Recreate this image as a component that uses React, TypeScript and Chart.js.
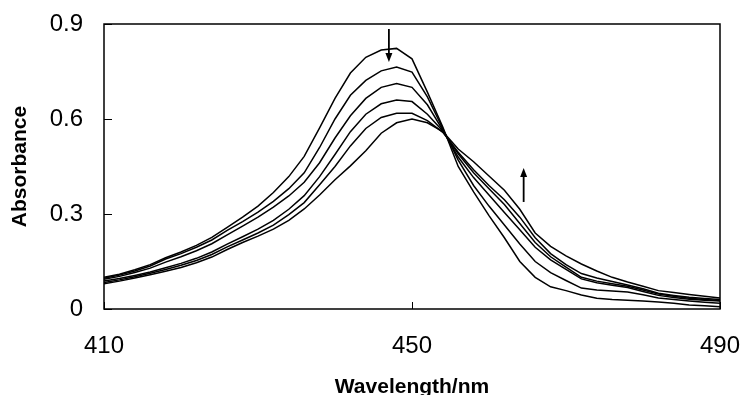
import React, { useEffect, useRef } from "react";
import { Chart, registerables } from "chart.js";

Chart.register(...registerables);

const wavelengths = [410,412,414,416,418,420,422,424,426,428,430,432,434,436,438,440,442,444,446,448,450,452,454,456,458,460,462,464,466,468,470,472,474,476,478,480,482,484,486,488,490];

const spectrum1 = [.100,.110,.124,.140,.162,.180,.201,.226,.258,.290,.325,.368,.418,.482,.572,.665,.745,.795,.818,.823,.790,.685,.575,.450,.370,.295,.225,.150,.100,.070,.058,.044,.034,.030,.028,.025,.022,.018,.013,.010,.007];
const spectrum2 = [.097,.107,.120,.136,.158,.175,.195,.218,.248,.276,.306,.340,.380,.430,.510,.600,.675,.722,.752,.764,.748,.670,.570,.470,.390,.325,.265,.205,.150,.115,.090,.066,.060,.057,.054,.045,.035,.030,.025,.021,.018];
const spectrum3 = [.094,.103,.115,.129,.148,.165,.184,.206,.234,.262,.290,.322,.357,.400,.462,.540,.610,.665,.700,.712,.700,.645,.565,.480,.415,.360,.305,.250,.195,.155,.125,.095,.083,.075,.068,.055,.043,.036,.031,.028,.025];
const spectrum4 = [.088,.096,.106,.117,.130,.144,.160,.180,.205,.228,.252,.280,.315,.358,.418,.488,.560,.615,.648,.660,.655,.615,.562,.490,.430,.380,.330,.270,.210,.165,.132,.100,.088,.080,.072,.060,.047,.040,.034,.030,.027];
const spectrum5 = [.084,.092,.102,.113,.125,.138,.153,.172,.196,.218,.240,.265,.298,.336,.392,.450,.515,.570,.605,.618,.618,.595,.558,.495,.440,.390,.345,.290,.225,.175,.140,.112,.098,.087,.076,.064,.050,.043,.037,.033,.030];
const spectrum6 = [.080,.088,.098,.108,.119,.131,.146,.164,.188,.210,.230,.252,.280,.316,.360,.408,.452,.500,.555,.588,.600,.588,.560,.505,.465,.420,.375,.315,.240,.198,.168,.142,.120,.100,.085,.072,.058,.052,.046,.040,.035];

const spectra = [spectrum1, spectrum2, spectrum3, spectrum4, spectrum5, spectrum6];

const xTicks = [410, 450, 490];
const yTicks = [0, 0.3, 0.6, 0.9];
const yTickLabels = ["0", "0.3", "0.6", "0.9"];

// arrows: [wavelength, from absorbance, to absorbance]
const arrowDown = [447.0, 0.884, 0.78];
const arrowUp = [464.5, 0.338, 0.445];

const FONT = "'Liberation Sans', Arial, sans-serif";

const framePlugin = {
  id: "frame",
  afterDatasetsDraw(chart: any) {
    const { ctx, chartArea, scales } = chart;
    const xs = scales.x;
    const ys = scales.y;
    ctx.save();
    ctx.strokeStyle = "#000";
    ctx.lineWidth = 1.5;
    ctx.strokeRect(chartArea.left, chartArea.top, chartArea.right - chartArea.left, chartArea.bottom - chartArea.top);
    ctx.lineWidth = 1;
    ctx.beginPath();
    yTicks.forEach((v) => {
      const y = Math.round(ys.getPixelForValue(v)) + 0.5;
      ctx.moveTo(chartArea.left, y);
      ctx.lineTo(chartArea.left + 8, y);
    });
    xTicks.forEach((v) => {
      const x = Math.round(xs.getPixelForValue(v)) + 0.5;
      ctx.moveTo(x, chartArea.bottom);
      ctx.lineTo(x, chartArea.bottom - 7);
    });
    ctx.stroke();

    const drawArrow = (a: number[]) => {
      const x = xs.getPixelForValue(a[0]);
      const y0 = ys.getPixelForValue(a[1]);
      const y1 = ys.getPixelForValue(a[2]);
      const dir = y1 > y0 ? 1 : -1;
      ctx.lineWidth = 1.8;
      ctx.beginPath();
      ctx.moveTo(x, y0);
      ctx.lineTo(x, y1 - dir * 7);
      ctx.stroke();
      ctx.beginPath();
      ctx.moveTo(x, y1);
      ctx.lineTo(x - 3.5, y1 - dir * 9);
      ctx.lineTo(x + 3.5, y1 - dir * 9);
      ctx.closePath();
      ctx.fillStyle = "#000";
      ctx.fill();
    };
    drawArrow(arrowDown);
    drawArrow(arrowUp);
    ctx.restore();
  },
};

export default function App() {
  const ref = useRef<HTMLCanvasElement>(null);
  useEffect(() => {
    const chart = new Chart(ref.current!, {
      type: "line",
      data: {
        datasets: spectra.map((s, i) => ({
          label: "Spectrum " + (i + 1),
          data: wavelengths.map((w, j) => ({ x: w, y: s[j] })),
          borderColor: "#000",
          borderWidth: 1.5,
          pointRadius: 0,
          tension: 0,
          fill: false,
        })),
      },
      options: {
        animation: false,
        responsive: false,
        maintainAspectRatio: false,
        layout: { padding: { top: 24, right: 23, left: 0, bottom: 0 } },
        plugins: { legend: { display: false }, tooltip: { enabled: false } },
        scales: {
          x: {
            type: "linear",
            min: 410,
            max: 490,
            afterFit: (s: any) => {
              s.height = 86;
              s.paddingLeft = 0;
              s.paddingRight = 0;
            },
            afterBuildTicks: (s: any) => { s.ticks = xTicks.map((v) => ({ value: v })); },
            grid: { display: false, drawTicks: false },
            border: { display: false },
            ticks: {
              color: "#000",
              font: { family: FONT, size: 24 },
              padding: 23,
              maxRotation: 0,
              callback: (v: any) => String(v),
            },
            title: {
              display: true,
              text: "Wavelength/nm",
              color: "#000",
              font: { family: FONT, size: 21, weight: "bold" },
              padding: { top: 0, bottom: -5 },
            },
          },
          y: {
            type: "linear",
            min: 0,
            max: 0.9,
            afterFit: (s: any) => {
              s.width = 104;
              s.paddingTop = 0;
              s.paddingBottom = 0;
            },
            afterBuildTicks: (s: any) => { s.ticks = yTicks.map((v) => ({ value: v })); },
            grid: { display: false, drawTicks: false },
            border: { display: false },
            ticks: {
              color: "#000",
              font: { family: FONT, size: 24 },
              padding: 21,
              callback: (v: any) => {
                const i = yTicks.findIndex((t) => Math.abs(t - v) < 1e-6);
                return i >= 0 ? yTickLabels[i] : "";
              },
            },
            title: {
              display: true,
              text: "Absorbance",
              color: "#000",
              font: { family: FONT, size: 21, weight: "bold" },
              padding: { top: 8, bottom: 0 },
            },
          },
        },
      },
      plugins: [framePlugin],
    });
    return () => chart.destroy();
  }, []);
  return (
    <div style={{ position: "fixed", left: 0, top: 0, width: 743, height: 395, background: "#fff" }}>
      <canvas ref={ref} width={743} height={395} style={{ width: 743, height: 395 }} />
    </div>
  );
}
